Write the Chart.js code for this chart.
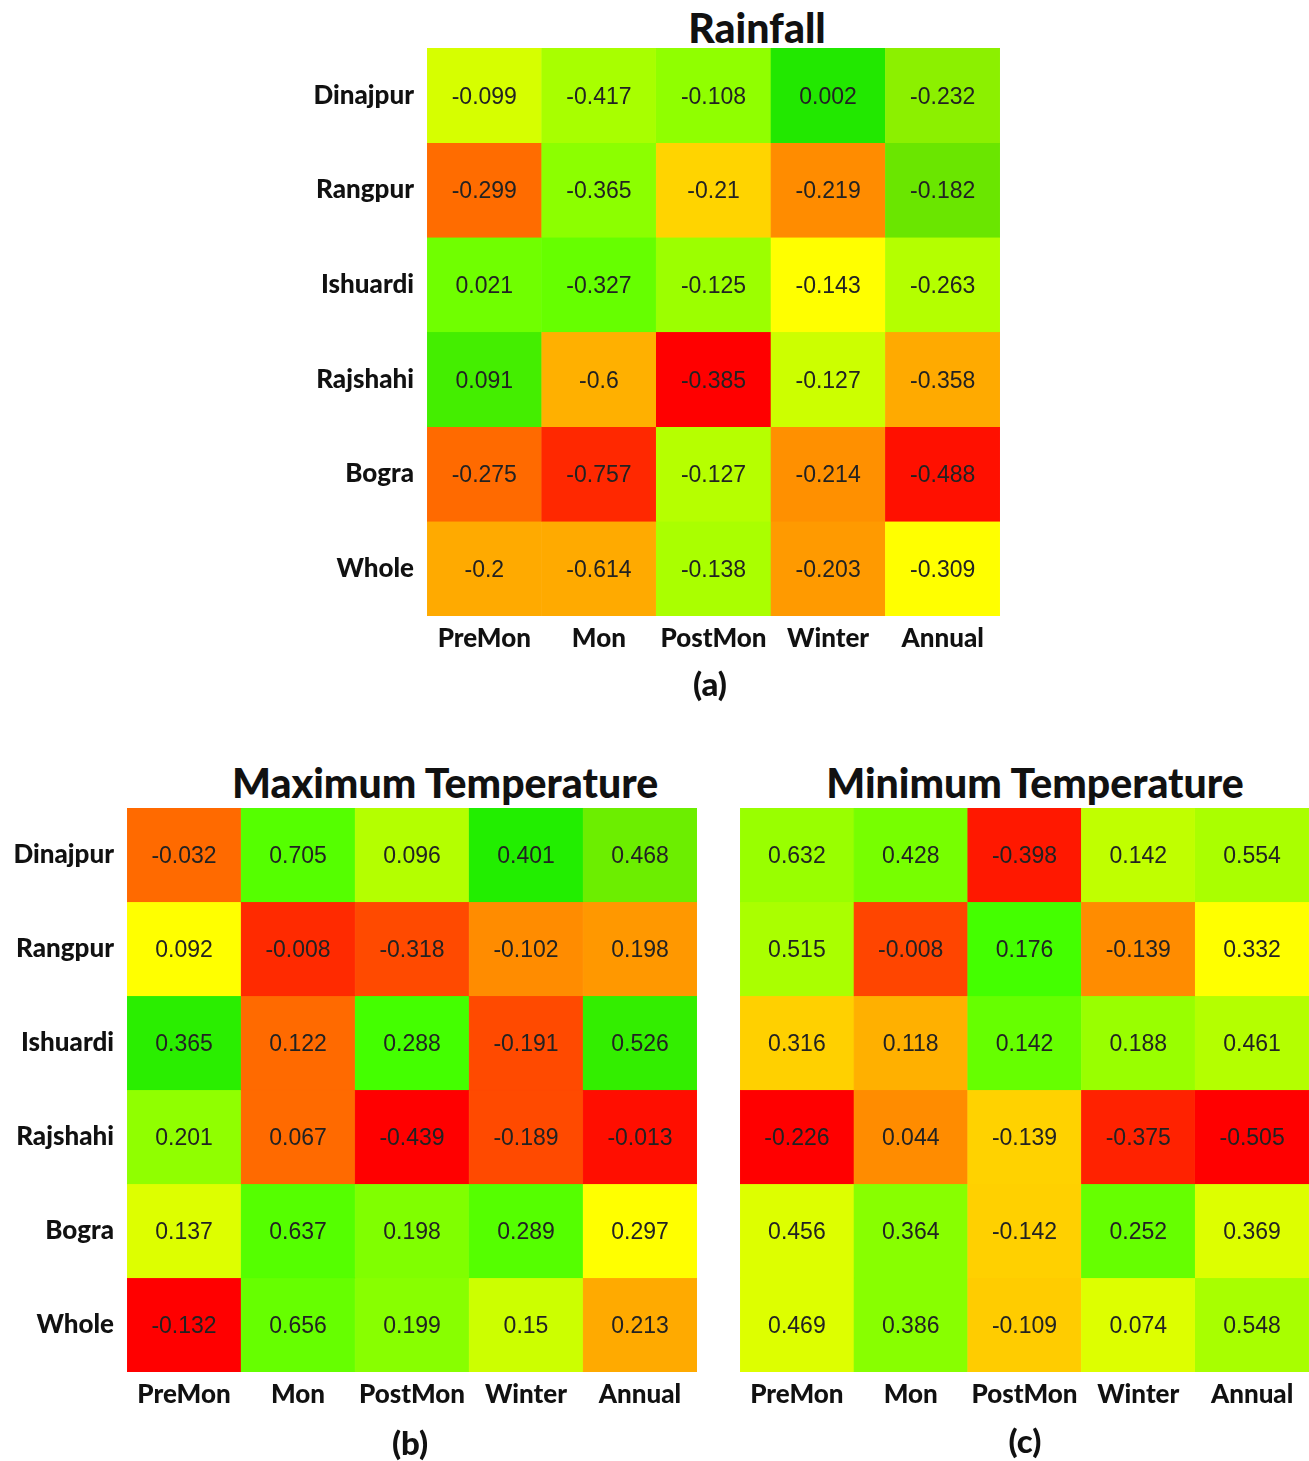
<!DOCTYPE html>
<html lang="en">
<head>
    <meta charset="UTF-8">
    <title>Rainfall and Temperature Heatmaps</title>
    <script src="https://cdn.jsdelivr.net/npm/chart.js"></script>
    <style>
        body { margin: 0; background: #fff; overflow: hidden; }
        #page { position: relative; width: 1309px; height: 1461px; }
        .box { position: absolute; }
        .title, .cap {
            position: absolute; text-align: center; font-family: Lato, sans-serif;
            font-weight: 900; color: #111; white-space: nowrap;
        }
        .title { font-size: 41px; line-height: 42px; }
        .cap { font-size: 33px; line-height: 36px; }
    </style>
</head>
<body>
<div id="page">
    <div class="title" style="left:557px; top:7px; width:400px;">Rainfall</div>
    <div class="box" style="left:290px; top:48px; width:710px; height:620px;"><canvas id="rainChart"></canvas></div>
    <div class="cap" style="left:660px; top:665px; width:100px;">(a)</div>

    <div class="title" style="left:195px; top:762px; width:500px;">Maximum Temperature</div>
    <div class="box" style="left:0px; top:808px; width:697px; height:616px;"><canvas id="maxChart"></canvas></div>
    <div class="cap" style="left:360px; top:1424px; width:100px;">(b)</div>

    <div class="title" style="left:785px; top:762px; width:500px;">Minimum Temperature</div>
    <div class="box" style="left:740px; top:808px; width:569px; height:616px;"><canvas id="minChart"></canvas></div>
    <div class="cap" style="left:975px; top:1422px; width:100px;">(c)</div>
</div>

<script>
    // stations (rows) and seasons (columns)
    const stations = ['Dinajpur', 'Rangpur', 'Ishuardi', 'Rajshahi', 'Bogra', 'Whole'];
    const seasons = ['PreMon', 'Mon', 'PostMon', 'Winter', 'Annual'];

    // values, one row per station
    const rainValues = [
        [-0.099, -0.417, -0.108, 0.002, -0.232],
        [-0.299, -0.365, -0.21, -0.219, -0.182],
        [0.021, -0.327, -0.125, -0.143, -0.263],
        [0.091, -0.6, -0.385, -0.127, -0.358],
        [-0.275, -0.757, -0.127, -0.214, -0.488],
        [-0.2, -0.614, -0.138, -0.203, -0.309]
    ];
    const maxTempValues = [
        [-0.032, 0.705, 0.096, 0.401, 0.468],
        [0.092, -0.008, -0.318, -0.102, 0.198],
        [0.365, 0.122, 0.288, -0.191, 0.526],
        [0.201, 0.067, -0.439, -0.189, -0.013],
        [0.137, 0.637, 0.198, 0.289, 0.297],
        [-0.132, 0.656, 0.199, 0.15, 0.213]
    ];
    const minTempValues = [
        [0.632, 0.428, -0.398, 0.142, 0.554],
        [0.515, -0.008, 0.176, -0.139, 0.332],
        [0.316, 0.118, 0.142, 0.188, 0.461],
        [-0.226, 0.044, -0.139, -0.375, -0.505],
        [0.456, 0.364, -0.142, 0.252, 0.369],
        [0.469, 0.386, -0.109, 0.074, 0.548]
    ];

    // cell colours as seen in the figure
    const rainColors = [
        ['#d6ff00', '#a8ff00', '#90ff00', '#22e800', '#8cf000'],
        ['#ff6c00', '#8cff00', '#ffd400', '#ff8c00', '#6ae600'],
        ['#70ff00', '#66ff00', '#9cff00', '#ffff00', '#b4ff00'],
        ['#44ee00', '#ffb000', '#ff0000', '#ccff00', '#ffaa00'],
        ['#ff6a00', '#ff2800', '#b6ff00', '#ff9000', '#ff1000'],
        ['#ffaa00', '#ffaa00', '#aaff00', '#ff9a00', '#ffff00']
    ];
    const maxTempColors = [
        ['#ff6a00', '#55ff00', '#b4ff00', '#22ee00', '#6cee00'],
        ['#ffff00', '#ff2a00', '#ff4a00', '#ff8c00', '#ff9800'],
        ['#2aee00', '#ff6a00', '#44ff00', '#ff4a00', '#33ee00'],
        ['#90ff00', '#ff6a00', '#ff0000', '#ff4a00', '#ff0e00'],
        ['#ddff00', '#55ff00', '#80ff00', '#55ff00', '#ffff00'],
        ['#ff0000', '#66ff00', '#88ff00', '#ccff00', '#ffaa00']
    ];
    const minTempColors = [
        ['#99ff00', '#77ff00', '#ff1800', '#c0ff00', '#aaff00'],
        ['#aaff00', '#ff4500', '#44ff00', '#ff8c00', '#ffff00'],
        ['#ffd000', '#ffb000', '#66ff00', '#99ff00', '#b4ff00'],
        ['#ff0000', '#ff8c00', '#ffd200', '#ff2200', '#ff0000'],
        ['#ddff00', '#88ff00', '#ffd000', '#66ff00', '#ddff00'],
        ['#ddff00', '#88ff00', '#ffcc00', '#ddff00', '#a8ff00']
    ];

    const labelFont = { family: 'Lato', size: 26, weight: '900' };

    // draws the number in the middle of each cell
    const cellText = {
        id: 'cellText',
        afterDatasetsDraw(chart) {
            const c = chart.ctx;
            c.save();
            c.font = '23px "Liberation Sans", Arial, sans-serif';
            c.fillStyle = '#222';
            c.textAlign = 'center';
            c.textBaseline = 'middle';
            chart.data.datasets.forEach((ds, i) => {
                chart.getDatasetMeta(i).data.forEach((bar, j) => {
                    const yMid = (bar.y + bar.base) / 2;
                    c.fillText(String(ds.values[j]), bar.x, yMid + 2);
                });
            });
            c.restore();
        }
    };

    function makePanel(id, values, colors, showRows, axisWidth) {
        const datasets = stations.map((name, r) => ({
            label: name,
            data: seasons.map(() => [r, r + 1]),
            values: values[r],
            backgroundColor: colors[r],
            borderColor: colors[r],
            borderWidth: 0.6,
            borderSkipped: false,
            barPercentage: 1,
            categoryPercentage: 1
        }));

        return new Chart(document.getElementById(id), {
            type: 'bar',
            data: { labels: seasons, datasets: datasets },
            options: {
                responsive: true,
                maintainAspectRatio: false,
                animation: false,
                layout: { padding: 0 },
                plugins: { legend: { display: false }, tooltip: { enabled: false } },
                scales: {
                    x: {
                        stacked: true,
                        grid: { display: false, drawTicks: false },
                        border: { display: false },
                        ticks: { font: labelFont, color: '#111', padding: 7, maxRotation: 0 },
                        afterFit: s => { s.height = 52; }
                    },
                    y: {
                        display: showRows,
                        min: 0,
                        max: stations.length,
                        reverse: true,
                        grid: { display: false, drawTicks: false },
                        border: { display: false },
                        afterBuildTicks: s => { s.ticks = stations.map((_, i) => ({ value: i + 0.5 })); },
                        ticks: {
                            font: labelFont,
                            color: '#111',
                            padding: 13,
                            callback: v => stations[Math.floor(v)]
                        },
                        afterFit: s => {
                            s.width = axisWidth;
                            s.paddingTop = 0;
                            s.paddingBottom = 0;
                        }
                    }
                }
            },
            plugins: [cellText]
        });
    }

    makePanel('rainChart', rainValues, rainColors, true, 137);
    makePanel('maxChart', maxTempValues, maxTempColors, true, 127);
    makePanel('minChart', minTempValues, minTempColors, false, 0);
</script>
</body>
</html>
